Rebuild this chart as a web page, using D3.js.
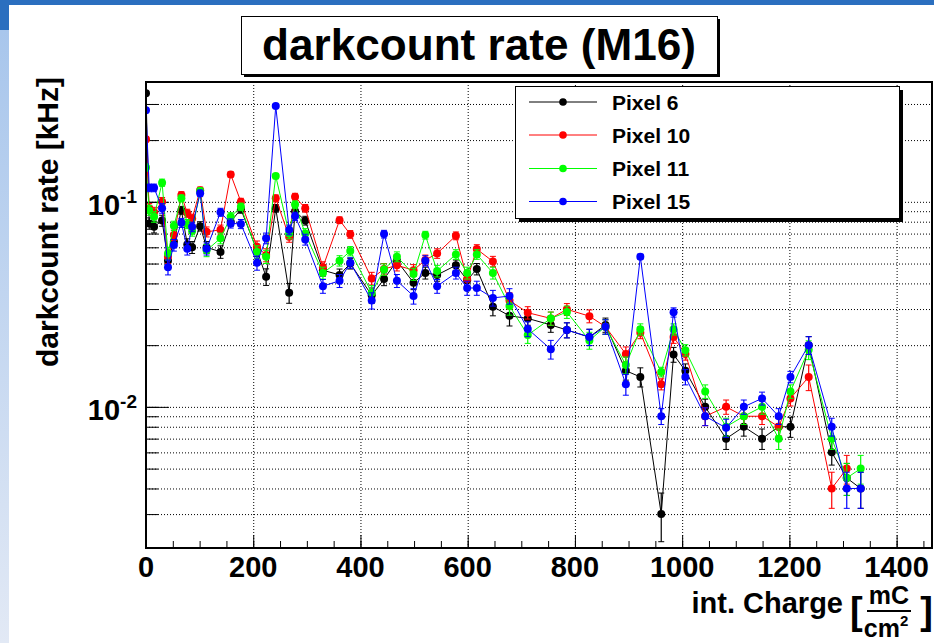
<!DOCTYPE html>
<html><head><meta charset="utf-8">
<script src="https://cdn.jsdelivr.net/npm/d3@7/dist/d3.min.js"></script>
<style>
html,body{margin:0;padding:0;background:#fff;}
svg{display:block;}
text{font-family:"Liberation Sans",Arial,Helvetica,sans-serif;font-weight:bold;}
</style></head>
<body>
<svg id="c" width="934" height="643"></svg>
<script>
// ---- data ----
const charge = [0, 6, 15, 30, 41, 52, 66, 77, 86, 101, 113, 139, 158, 177, 207, 224, 242, 267, 278, 297,
  330, 361, 381, 421, 444, 468, 499, 521, 543, 578, 599, 617, 647, 678, 712, 755, 785, 827, 857, 895,
  922, 961, 984, 1006, 1043, 1082, 1115, 1149, 1180, 1202, 1236, 1279, 1307, 1333];
const pixel6 = [0.338, 0.0785, 0.0755, 0.081, 0.0516, 0.064, 0.091, 0.062, 0.060, 0.076, 0.060, 0.057, 0.080, 0.092, 0.058, 0.0431, 0.093, 0.036, 0.090, 0.081,
  0.0464, 0.044, 0.050, 0.035, 0.042, 0.0516, 0.0403, 0.045, 0.044, 0.049, 0.0415, 0.047, 0.0308, 0.0278, 0.027, 0.0251, 0.0237, 0.0219, 0.0251, 0.015,
  0.014, 0.003, 0.018, 0.015, 0.010, 0.007, 0.008, 0.007, 0.008, 0.008, 0.020, 0.006, 0.0045, 0.004];
const pixel10 = [0.202, 0.093, 0.089, 0.100, 0.054, 0.0688, 0.108, 0.088, 0.083, 0.114, 0.0714, 0.073, 0.136, 0.100, 0.0604, 0.055, 0.104, 0.0675, 0.106, 0.093,
  0.048, 0.0814, 0.0694, 0.0423, 0.047, 0.049, 0.0464, 0.052, 0.056, 0.0683, 0.042, 0.0588, 0.0512, 0.033, 0.0288, 0.027, 0.0299, 0.0277, 0.0246, 0.0181,
  0.023, 0.0129, 0.0219, 0.0181, 0.009, 0.010, 0.009, 0.009, 0.008, 0.011, 0.014, 0.004, 0.005, null];
const pixel11 = [0.147, 0.091, 0.0845, 0.124, 0.056, 0.0764, 0.104, 0.078, 0.072, 0.113, 0.058, 0.0664, 0.0845, 0.0945, 0.057, 0.054, 0.1335, 0.070, 0.097, 0.070,
  0.045, 0.0516, 0.0575, 0.036, 0.0468, 0.054, 0.0444, 0.0688, 0.046, 0.0554, 0.045, 0.0554, 0.045, 0.031, 0.0224, 0.027, 0.029, 0.0211, 0.0246, 0.016,
  0.0239, 0.0148, 0.0239, 0.0189, 0.0119, 0.008, 0.009, 0.010, 0.007, 0.0119, 0.019, 0.007, 0.0045, 0.005];
const pixel15 = [0.280, 0.117, 0.117, 0.093, 0.048, 0.0615, 0.079, 0.059, 0.0755, 0.110, 0.059, 0.089, 0.0785, 0.078, 0.0504, 0.0664, 0.293, 0.073, 0.085, 0.0655,
  0.0388, 0.0412, 0.0504, 0.033, 0.0696, 0.0412, 0.0347, 0.0516, 0.0388, 0.045, 0.038, 0.038, 0.034, 0.0347, 0.024, 0.0191, 0.0237, 0.0219, 0.0246, 0.0129,
  0.054, 0.009, 0.0289, 0.014, 0.009, 0.0079, 0.010, 0.011, 0.009, 0.014, 0.020, 0.008, 0.004, 0.004];
const rateErr = [0.006, 0.005, 0.005, 0.005, 0.004, 0.004, 0.004, 0.004, 0.004, 0.004, 0.004, 0.004, 0.004, 0.004, 0.004, 0.004, 0.004, 0.004, 0.004, 0.004,
  0.003, 0.003, 0.003, 0.003, 0.003, 0.003, 0.003, 0.003, 0.003, 0.003, 0.003, 0.003, 0.003, 0.003, 0.002, 0.002, 0.002, 0.002, 0.002, 0.0015,
  0.0015, 0.0008, 0.0015, 0.0012, 0.0009, 0.0008, 0.0008, 0.0008, 0.0008, 0.0009, 0.002, 0.0008, 0.0008, 0.0008];
const seriesNames = ["Pixel 6", "Pixel 10", "Pixel 11", "Pixel 15"];
const seriesColors = ["#000000", "#ff0000", "#00ff00", "#0000ff"];
const xTickLabels = [0, 200, 400, 600, 800, 1000, 1200, 1400];
const yDecades = [0.1, 0.01];
const yDecadeLabels = ["-1", "-2"];
const titleText = "darkcount rate (M16)";

// ---- layout ----
const svg = d3.select("#c");
const L = 146, R = 932, T = 82, B = 548;
const x = d3.scaleLinear().domain([0, 1466]).range([L, R]);
const y = d3.scaleLog().domain([0.00205, 0.384]).range([B, T]);

// slide background
const defs = svg.append("defs");
const g1 = defs.append("linearGradient").attr("id", "lg").attr("x1", 0).attr("y1", 0).attr("x2", 0).attr("y2", 1);
g1.append("stop").attr("offset", "0").attr("stop-color", "#a8c6ec");
g1.append("stop").attr("offset", "1").attr("stop-color", "#e2e9f5");
svg.append("rect").attr("x", 0).attr("y", 0).attr("width", 934).attr("height", 5).attr("fill", "#2b6fbf");
svg.append("rect").attr("x", 0).attr("y", 5).attr("width", 9).attr("height", 25).attr("fill", "#2b6fbf");
svg.append("rect").attr("x", 0).attr("y", 30).attr("width", 9).attr("height", 613).attr("fill", "url(#lg)");

const clip = defs.append("clipPath").attr("id", "pc");
clip.append("rect").attr("x", L).attr("y", T).attr("width", R - L).attr("height", B - T);

// grid
const yTicksAll = [];
for (let e = -3; e <= 0; e++) for (let m = 1; m <= 9; m++) {
  const v = m * Math.pow(10, e);
  if (v >= 0.00205 && v <= 0.384) yTicksAll.push(+v.toPrecision(3));
}
const grid = svg.append("g");
grid.append("g").attr("transform", `translate(0,${B})`)
  .call(d3.axisBottom(x).tickValues(xTickLabels.filter(d => d > 0)).tickSize(-(B - T)).tickFormat(""))
  .call(g => { g.select(".domain").remove();
    g.selectAll("line").attr("stroke", "#000").attr("stroke-dasharray", "1,2").attr("stroke-width", 1); });
grid.append("g").attr("transform", `translate(${L},0)`)
  .call(d3.axisRight(y).tickValues(yTicksAll).tickSize(R - L).tickFormat(""))
  .call(g => { g.select(".domain").remove();
    g.selectAll("line").attr("stroke", "#000").attr("stroke-dasharray", "1,2").attr("stroke-width", 1); });

// ticks
const ax = svg.append("g");
ax.append("g").attr("transform", `translate(0,${B})`)
  .call(d3.axisBottom(x).tickValues(d3.range(0, 1451, 50)).tickSize(-7).tickFormat(""))
  .call(g => { g.select(".domain").remove(); g.selectAll("line").attr("stroke", "#000"); });
ax.append("g").attr("transform", `translate(0,${B})`)
  .call(d3.axisBottom(x).tickValues(xTickLabels).tickSize(-13).tickFormat(""))
  .call(g => { g.select(".domain").remove(); g.selectAll("line").attr("stroke", "#000"); });
ax.append("g").attr("transform", `translate(${L},0)`)
  .call(d3.axisLeft(y).tickValues(yTicksAll).tickSize(-12).tickFormat(""))
  .call(g => { g.select(".domain").remove(); g.selectAll("line").attr("stroke", "#000"); });
ax.append("g").attr("transform", `translate(${L},0)`)
  .call(d3.axisLeft(y).tickValues(yDecades).tickSize(-23).tickFormat(""))
  .call(g => { g.select(".domain").remove(); g.selectAll("line").attr("stroke", "#000"); });

// tick labels
svg.append("g").selectAll("text").data(xTickLabels).join("text")
  .attr("x", d => x(d)).attr("y", 577).attr("text-anchor", "middle")
  .attr("font-size", 29).text(d => d);
const yl = svg.append("g").selectAll("text").data(yDecades).join("text")
  .attr("x", 137).attr("y", d => y(d) + 13).attr("text-anchor", "end").attr("font-size", 29);
yl.append("tspan").text("10");
yl.append("tspan").attr("font-size", 19).attr("dy", -12).text((d, i) => yDecadeLabels[i]);

// data
const series = [pixel6, pixel10, pixel11, pixel15];
const plot = svg.append("g").attr("clip-path", "url(#pc)");
const line = d3.line().defined(d => d.v != null).x(d => x(d.x)).y(d => y(d.v));
series.forEach((vals, si) => {
  const pts = charge.map((c, i) => ({ x: c, v: vals[i], e: rateErr[i] })).filter(d => d.v != null);
  const col = seriesColors[si];
  const g = plot.append("g");
  g.append("path").datum(pts).attr("d", line).attr("fill", "none").attr("stroke", col).attr("stroke-width", 1);
  const eb = g.selectAll("g.eb").data(pts).join("g");
  eb.append("line").attr("x1", d => x(d.x)).attr("x2", d => x(d.x))
    .attr("y1", d => y(d.v + d.e)).attr("y2", d => y(Math.max(d.v - d.e, 0.0021)))
    .attr("stroke", col).attr("stroke-width", 1.2);
  eb.append("line").attr("x1", d => x(d.x) - 3).attr("x2", d => x(d.x) + 3)
    .attr("y1", d => y(d.v + d.e)).attr("y2", d => y(d.v + d.e)).attr("stroke", col);
  eb.append("line").attr("x1", d => x(d.x) - 3).attr("x2", d => x(d.x) + 3)
    .attr("y1", d => y(Math.max(d.v - d.e, 0.0021))).attr("y2", d => y(Math.max(d.v - d.e, 0.0021))).attr("stroke", col);
  g.selectAll("circle").data(pts).join("circle")
    .attr("cx", d => x(d.x)).attr("cy", d => y(d.v)).attr("r", 4).attr("fill", col);
});

// frame
svg.append("rect").attr("x", L).attr("y", T).attr("width", R - L).attr("height", B - T)
  .attr("fill", "none").attr("stroke", "#000").attr("stroke-width", 2);

// title box
svg.append("rect").attr("x", 244).attr("y", 19).attr("width", 476).attr("height", 58).attr("fill", "#000");
svg.append("rect").attr("x", 241.5).attr("y", 16.5).attr("width", 476).attr("height", 58)
  .attr("fill", "#fff").attr("stroke", "#000").attr("stroke-width", 1);
svg.append("text").attr("x", 479).attr("y", 60).attr("text-anchor", "middle")
  .attr("font-size", 44).attr("textLength", 434).attr("lengthAdjust", "spacingAndGlyphs").text(titleText);

// legend
const lg = svg.append("g");
lg.append("rect").attr("x", 519).attr("y", 90).attr("width", 384).attr("height", 132).attr("fill", "#000");
lg.append("rect").attr("x", 515.5).attr("y", 86.5).attr("width", 384).attr("height", 132)
  .attr("fill", "#fff").attr("stroke", "#000").attr("stroke-width", 1);
const legY = [102, 135, 168.5, 201.5];
seriesNames.forEach((n, i) => {
  lg.append("line").attr("x1", 529).attr("x2", 597).attr("y1", legY[i]).attr("y2", legY[i])
    .attr("stroke", seriesColors[i]).attr("stroke-width", 1);
  lg.append("circle").attr("cx", 563).attr("cy", legY[i]).attr("r", 3.8).attr("fill", seriesColors[i]);
  lg.append("text").attr("x", 612).attr("y", legY[i] + 7.5).attr("font-size", 21).text(n);
});

// axis titles
svg.append("text").attr("transform", "translate(58,222) rotate(-90)").attr("text-anchor", "middle")
  .attr("font-size", 30).text("darkcount rate [kHz]");
const xt = svg.append("g");
xt.append("text").attr("x", 843).attr("y", 613).attr("text-anchor", "end").attr("font-size", 29).text("int. Charge");
xt.append("text").attr("x", 850).attr("y", 624).attr("font-size", 38).text("[");
xt.append("text").attr("x", 889).attr("y", 604).attr("text-anchor", "middle").attr("font-size", 25).text("mC");
xt.append("line").attr("x1", 867).attr("x2", 911).attr("y1", 611).attr("y2", 611).attr("stroke", "#000").attr("stroke-width", 2);
const cm = xt.append("text").attr("x", 886).attr("y", 637).attr("text-anchor", "middle").attr("font-size", 25);
cm.append("tspan").text("cm");
cm.append("tspan").attr("font-size", 15).attr("dy", -11).text("2");
xt.append("text").attr("x", 933).attr("y", 624).attr("text-anchor", "end").attr("font-size", 38).text("]");
</script>
</body></html>
